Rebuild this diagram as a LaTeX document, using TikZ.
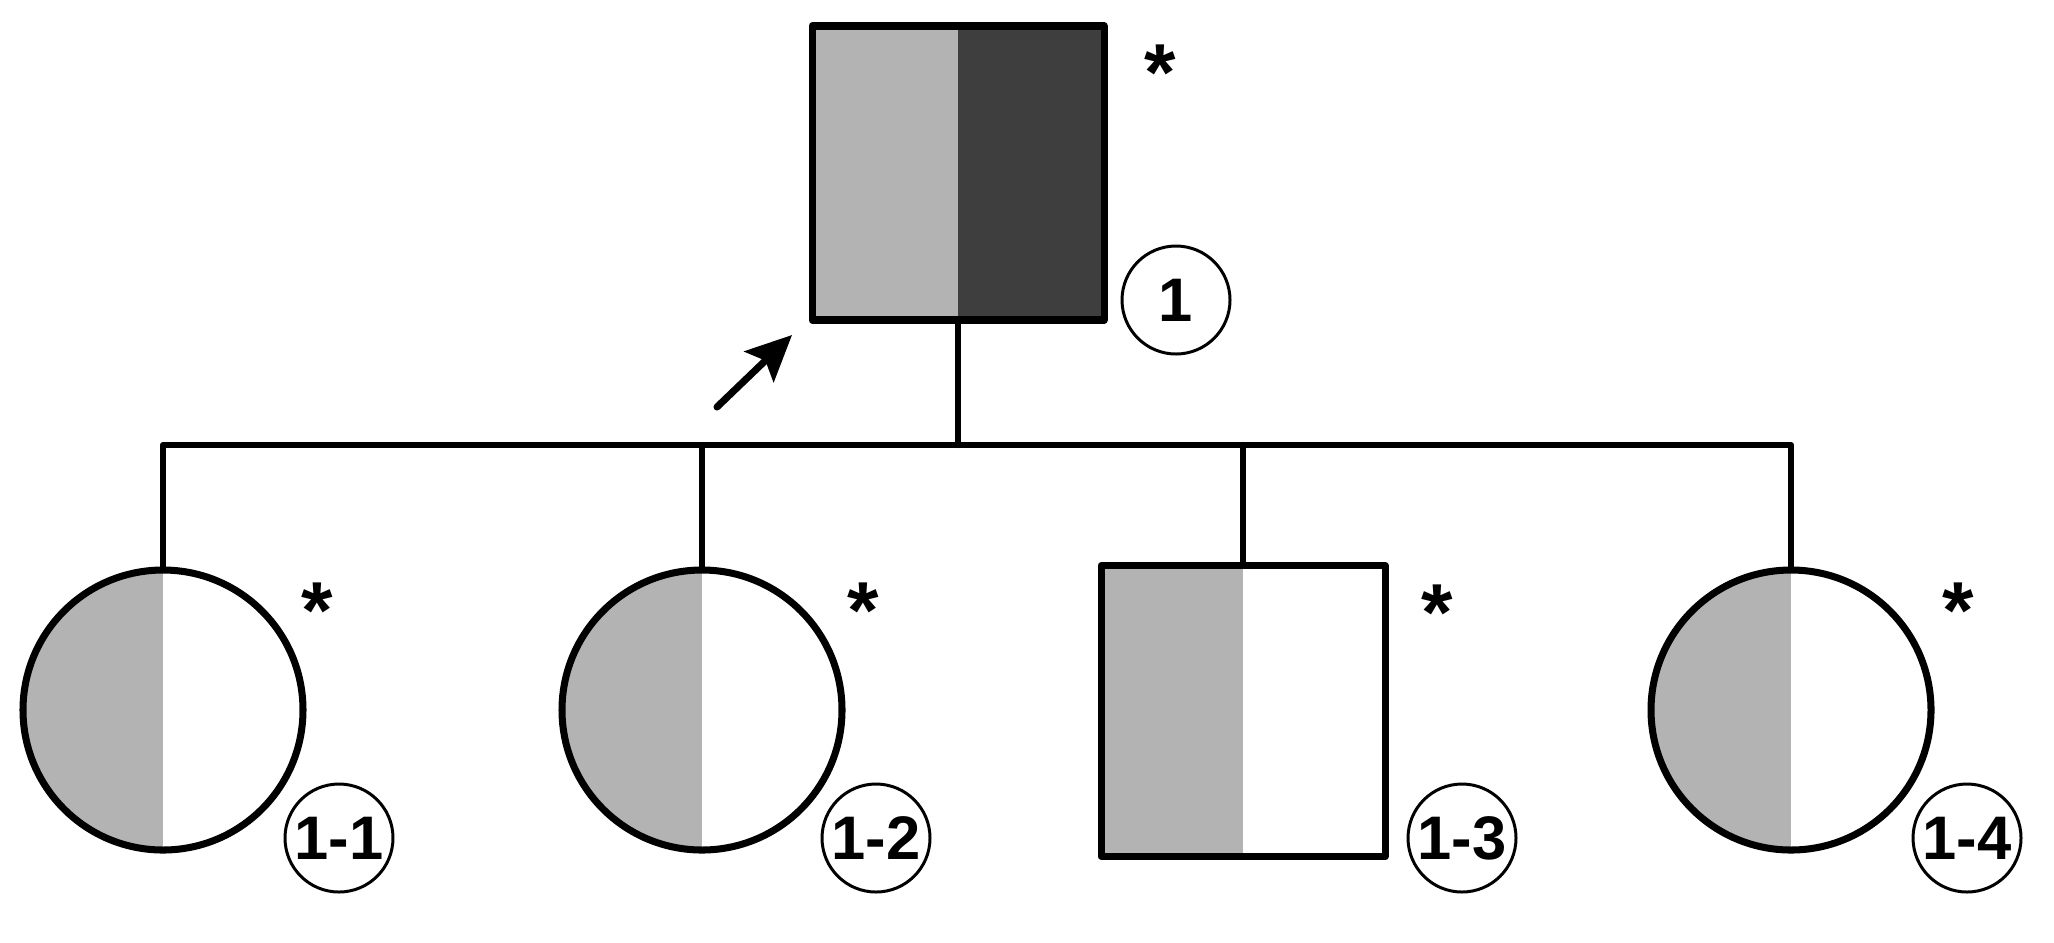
\documentclass[tikz,border=0pt]{standalone}
\usepackage{fontspec}
\setmainfont{Liberation Sans}
\usetikzlibrary{arrows.meta}
\definecolor{lightg}{HTML}{B3B3B3}
\definecolor{darkg}{HTML}{3E3E3E}
\begin{document}
\begin{tikzpicture}[x=0.1mm, y=-0.1mm, line join=round, line cap=round, >={Stealth[length=13pt,width=12pt,inset=2.5pt]},
	person/.style={draw, line width=2pt, inner sep=0pt, fill=white},
	female/.style={person, circle, minimum size=28mm, path picture={\fill[lightg] (path picture bounding box.south west) rectangle (path picture bounding box.north);}},
	male/.style={person, rectangle, path picture={\fill[lightg] (path picture bounding box.south west) rectangle (path picture bounding box.north);}},
	proband/.style={person, rectangle, path picture={\fill[lightg] (path picture bounding box.south west) rectangle (path picture bounding box.north); \fill[darkg] (path picture bounding box.south) rectangle (path picture bounding box.north east);}},
	idtag/.style={circle, draw, line width=0.85pt, minimum size=10.8mm, inner sep=0pt, font=\bfseries\fontsize{17.5}{17.5}\selectfont},
	astx/.style={anchor=north, inner sep=0pt, font=\bfseries\fontsize{23}{23}\selectfont}]
			\useasboundingbox (0,0) rectangle (2054,942);
			\coordinate (bar) at (958,445);
			\coordinate (arrtail) at (717,407);
			\coordinate (arrtip) at (792,335);
			% parent
			\node[proband, minimum width=29.2mm, minimum height=29.4mm] (p1) at (958,173) {};
			% children
			\node[female] (c11) at (163,710) {};
			\node[female] (c12) at (702,710) {};
			\node[male, minimum width=28.4mm, minimum height=29.1mm] (c13) at (1243,711) {};
			\node[female] (c14) at (1791,710) {};
			\draw[line width=1.8pt] (p1.south)--(bar);
			\draw[line width=1.8pt] (c11.north) |- (bar) -| (c14.north);
			\draw[line width=1.8pt] (c12.north)--(c12.north |- bar) (c13.north)--(c13.north |- bar);
			\draw[->, line width=2pt] (arrtail)--(arrtip);
			\node[idtag] (t1) at (1176,300) {1};
			\node[idtag] (t11) at (339,838) {1-1};
			\node[idtag] (t12) at (876,838) {1-2};
			\node[idtag] (t13) at (1462,838) {1-3};
			\node[idtag] (t14) at (1967,838) {1-4};
			\node[astx] (s1) at (1160,44) {*};
			\node[astx] (s11) at (317,582) {*};
			\node[astx] (s12) at (863,582) {*};
			\node[astx] (s13) at (1437,584) {*};
			\node[astx] (s14) at (1958,582) {*};
		\end{tikzpicture}
\end{document}
